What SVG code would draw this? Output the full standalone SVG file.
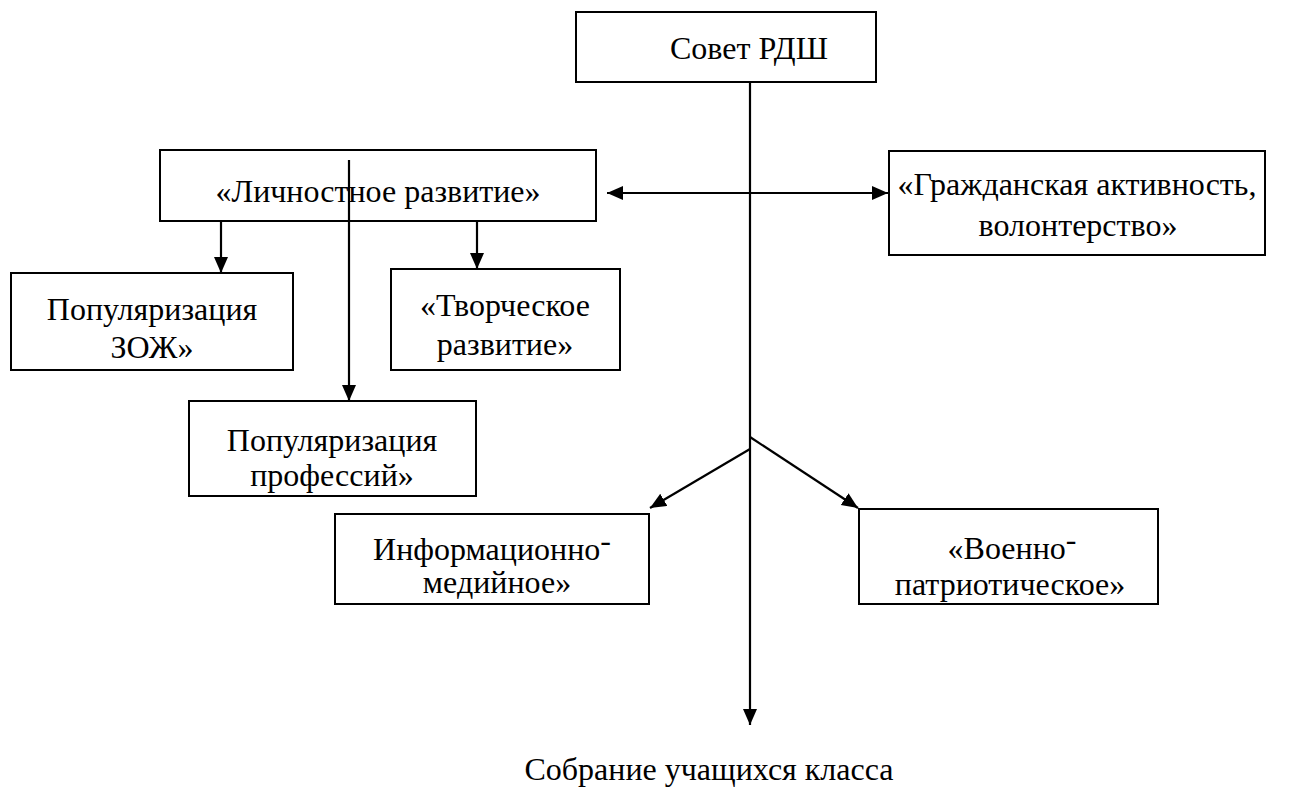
<svg xmlns="http://www.w3.org/2000/svg" width="1308" height="793" viewBox="0 0 1308 793">
<style>
.box{fill:#fff;stroke:#000;stroke-width:2}
.t{font-family:"Liberation Serif","Times New Roman",serif;font-size:32px;fill:#000;text-anchor:middle}
.c{stroke:#000;stroke-width:2.2;fill:none}
.a{marker-end:url(#ah)}
</style>
<defs>
<marker id="ah" markerUnits="userSpaceOnUse" markerWidth="17" markerHeight="15" refX="16" refY="7" orient="auto-start-reverse" viewBox="0 0 17 15">
<path d="M0,0 L16,7 L0,14 z" fill="#000"/>
</marker>
</defs>
<rect width="1308" height="793" fill="#fff"/>
<g id="sovet"><rect class="box" x="576" y="12" width="300" height="70"/><text class="t" x="749" y="59">Совет РДШ</text></g>
<g id="lichnostnoe"><rect class="box" x="160" y="150" width="436" height="71"/><text class="t" x="378" y="202">«Личностное развитие»</text></g>
<g id="grazhd"><rect class="box" x="889" y="151" width="376" height="104"/><text class="t" x="1077" y="195">«Гражданская активность,</text><text class="t" x="1078" y="236">волонтерство»</text></g>
<g id="zozh"><rect class="box" x="11" y="273" width="282" height="97"/><text class="t" x="152" y="320">Популяризация</text><text class="t" x="152" y="358">ЗОЖ»</text></g>
<g id="tvorch"><rect class="box" x="391" y="269" width="229" height="101"/><text class="t" x="505" y="316">«Творческое</text><text class="t" x="505" y="355">развитие»</text></g>
<g id="prof"><rect class="box" x="189" y="401" width="287" height="95"/><text class="t" x="332" y="451">Популяризация</text><text class="t" x="332" y="486">профессий»</text></g>
<g id="inform"><rect class="box" x="335" y="514" width="314" height="90"/><text class="t" x="492" y="560">Информационно<tspan dy="-9">-</tspan></text><text class="t" x="497" y="593">медийное»</text></g>
<g id="voenno"><rect class="box" x="859" y="509" width="299" height="95"/><text class="t" x="1012" y="559">«Военно<tspan dy="-9">-</tspan></text><text class="t" x="1010" y="595">патриотическое»</text></g>
<g id="sobranie"><text class="t" x="709" y="780">Собрание учащихся класса</text></g>
<g id="connectors">
<line class="c a" x1="750" y1="82" x2="750" y2="725"/>
<line class="c a" x1="349" y1="160" x2="349" y2="401"/>
<line class="c a" x1="221" y1="221" x2="221" y2="273"/>
<line class="c a" x1="477" y1="221" x2="477" y2="269"/>
<line class="c a" x1="607" y1="193" x2="888" y2="193" style="marker-start:url(#ah)"/>
<line class="c a" x1="750" y1="449" x2="650" y2="508"/>
<line class="c a" x1="750" y1="437" x2="858" y2="508"/>
</g>
</svg>
